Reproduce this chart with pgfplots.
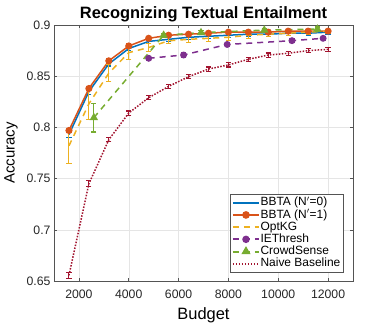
\documentclass[border=0pt]{standalone}
\usepackage{fontspec}
\setmainfont{Liberation Sans}
\setsansfont{Liberation Sans}
\usepackage{pgfplots}
\pgfplotsset{compat=1.18}
\usetikzlibrary{calc}

\definecolor{mblue}{rgb}{0,0.447,0.741}
\definecolor{morange}{rgb}{0.85,0.325,0.098}
\definecolor{myellow}{rgb}{0.929,0.694,0.125}
\definecolor{mpurple}{rgb}{0.494,0.184,0.556}
\definecolor{mgreen}{rgb}{0.466,0.674,0.188}
\definecolor{mred}{rgb}{0.635,0.078,0.184}
\definecolor{axgray}{rgb}{0.33,0.33,0.33}

\begin{document}
\begin{tikzpicture}
\begin{axis}[
    name=ax,
    scale only axis,
    width=299bp, height=256bp,
    xmin=1000, xmax=13000, ymin=0.65, ymax=0.9,
    xtick={2000,4000,...,12000},
    ytick={0.65,0.7,0.75,0.8,0.85,0.9},
    yticklabels={0.65,0.7,0.75,0.8,0.85,0.9},
    scaled x ticks=false,
    xticklabel style={/pgf/number format/1000 sep={}, yshift=-5bp},
    /pgf/number format/assume math mode=true,
    tick label style={font=\fontsize{12.3}{13}\selectfont, text=black!85},
    tick align=inside, tick pos=both,
    major tick length=3bp,
    axis line style={axgray, line width=0.7pt},
    tick style={axgray, line width=0.6pt},
    grid=major, grid style={gray!20, line width=0.5pt},
    title={\bfseries Recognizing Textual Entailment},
    title style={font=\fontsize{16.5}{18}\selectfont, yshift=-6bp},
    xlabel={Budget}, ylabel={Accuracy},
    xlabel style={font=\fontsize{16.5}{17}\selectfont, yshift=-3bp},
    ylabel style={font=\fontsize{15}{16}\selectfont, yshift=2bp},
    legend style={at={(0.967,0.035)}, anchor=south east, font=\fontsize{12}{12}\selectfont,
        draw=axgray, inner sep=2bp,
        nodes={inner sep=0.6bp, text height=8.6bp, text depth=2.4bp}},
    legend cell align=left,
    legend image post style={line width=2pt},
    legend image code/.code={\draw[#1] (0bp,0bp) -- (26bp,0bp); \path[#1] plot coordinates {(13bp,0bp)};},
    error bars/error bar style={line width=1.1pt},
    error bars/error mark options={rotate=90, mark size=2.6pt, line width=1.1pt},
]
% BBTA N'=0
\addplot[mblue, line width=1.5pt, mark=none, error bars/.cd, y dir=both, y explicit]
coordinates {
(1600,0.793) +- (0,0.003) (2400,0.835) +- (0,0.003) (3200,0.862) +- (0,0.002) (4000,0.877) +- (0,0.002)
(4800,0.884) +- (0,0.002) (5600,0.886) +- (0,0.002) (6400,0.888) +- (0,0.002) (7200,0.889) +- (0,0.002)
(8000,0.890) +- (0,0.002) (8800,0.891) +- (0,0.002) (9600,0.891) +- (0,0.002) (10400,0.892) +- (0,0.002)
(11200,0.892) +- (0,0.002) (12000,0.893) +- (0,0.002)};
\addlegendentry{BBTA (N$'$=0)}
% BBTA N'=1
\addplot[morange, line width=1.5pt, mark=*, mark size=2.8pt, mark options={solid, fill=morange},
    error bars/.cd, y dir=both, y explicit]
coordinates {
(1600,0.797) +- (0,0.002) (2400,0.838) +- (0,0.002) (3200,0.865) +- (0,0.002) (4000,0.8795) +- (0,0.002)
(4800,0.887) +- (0,0.002) (5600,0.890) +- (0,0.002) (6400,0.891) +- (0,0.002) (7200,0.892) +- (0,0.002)
(8000,0.893) +- (0,0.002) (8800,0.893) +- (0,0.002) (9600,0.893) +- (0,0.002) (10400,0.894) +- (0,0.002)
(11200,0.894) +- (0,0.002) (12000,0.894) +- (0,0.002)};
\addlegendentry{BBTA (N$'$=1)}
% OptKG
\addplot[myellow, line width=1.5pt, dash pattern=on 6bp off 5bp, mark=none,
    error bars/.cd, y dir=both, y explicit, error bar style={solid}]
coordinates {
(1600,0.782) +- (0,0.017) (2400,0.823) +- (0,0.015) (3200,0.853) +- (0,0.008) (4000,0.873) +- (0,0.007)
(4800,0.878) +- (0,0.004) (5600,0.8846) +- (0,0.003) (6400,0.886) +- (0,0.003) (7200,0.887) +- (0,0.003)
(8000,0.888) +- (0,0.003) (8800,0.890) +- (0,0.003) (9600,0.891) +- (0,0.002) (10400,0.892) +- (0,0.002)
(11200,0.893) +- (0,0.002) (12000,0.894) +- (0,0.002)};
\addlegendentry{OptKG}
% IEThresh
\addplot[mpurple, line width=1.5pt, dash pattern=on 6bp off 5bp, mark=*, mark size=2.7pt,
    mark options={solid, fill=mpurple}, error bars/.cd, y dir=both, y explicit, error bar style={solid}]
coordinates {
(4800,0.8675) +- (0,0.002) (6200,0.8707) +- (0,0.002) (7950,0.881) +- (0,0.002)
(10550,0.8847) +- (0,0.002) (11800,0.887) +- (0,0.002)};
\addlegendentry{IEThresh}
% CrowdSense
\addplot[mgreen, line width=1.5pt, dash pattern=on 6bp off 5bp, mark=triangle*, mark size=3.4pt,
    mark options={solid, fill=mgreen}, error bars/.cd, y dir=both, y explicit, error bar style={solid}]
coordinates {
(2600,0.8095) +- (0,0.014) (5400,0.890) +- (0,0.002) (6900,0.8925) +- (0,0.002)
(9440,0.895) +- (0,0.002) (11570,0.896) +- (0,0.002)};
\addlegendentry{CrowdSense}
% Naive
\addplot[mred, line width=1.5pt, dash pattern=on 1.5bp off 1.5bp, mark=none,
    error bars/.cd, y dir=both, y explicit, error bar style={solid}]
coordinates {
(1600,0.6555) +- (0,0.003) (2400,0.745) +- (0,0.003) (3200,0.788) +- (0,0.002) (4000,0.814) +- (0,0.002)
(4800,0.829) +- (0,0.002) (5600,0.840) +- (0,0.002) (6400,0.8495) +- (0,0.002) (7200,0.857) +- (0,0.002)
(8000,0.861) +- (0,0.002) (8800,0.8665) +- (0,0.002) (9600,0.8707) +- (0,0.002) (10400,0.8724) +- (0,0.002)
(11200,0.875) +- (0,0.002) (12000,0.8762) +- (0,0.002)};
\addlegendentry{Naive Baseline}
\end{axis}
\pgfresetboundingbox
\path ($(ax.south west)+(-54bp,-44bp)$) rectangle ($(ax.north east)+(37bp,25bp)$);
\end{tikzpicture}
\end{document}
